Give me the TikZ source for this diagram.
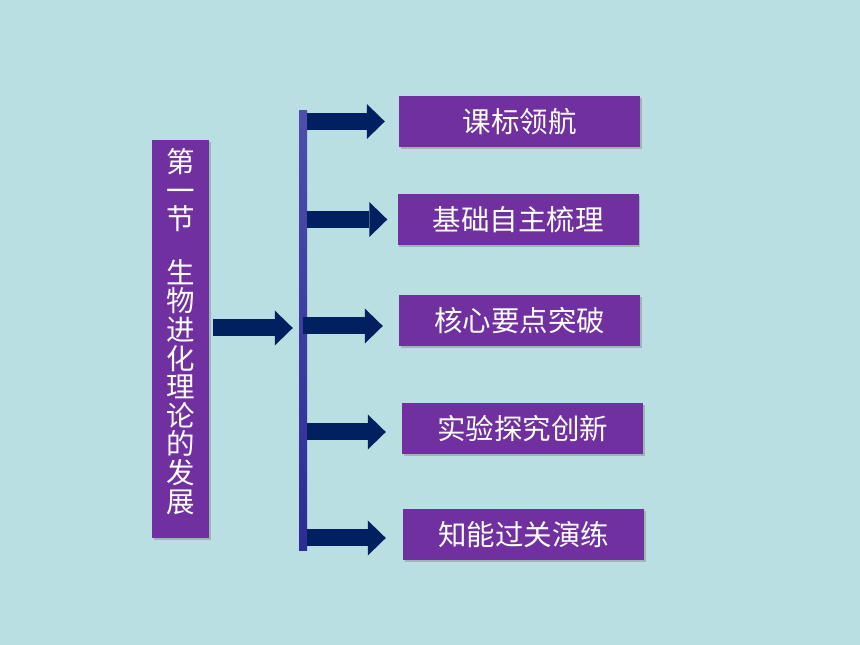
\documentclass[tikz,border=0pt]{standalone}
\usepackage{fontspec}
\newfontfamily\cjk{Noto Sans CJK SC}
\usepackage{tikz}
\usetikzlibrary{arrows.meta,calc,shadows}
\definecolor{slidebg}{RGB}{185,223,226}
\definecolor{boxpurple}{RGB}{112,48,160}
\definecolor{arrownavy}{RGB}{0,32,96}
\definecolor{bartop}{RGB}{78,78,172}
\definecolor{barbottom}{RGB}{44,44,150}

\begin{document}
\begin{tikzpicture}[
		x=1pt,y=1pt,
		font=\cjk\fontsize{28.5pt}{28.6pt}\selectfont,
		topic/.style={fill=boxpurple,text=white,minimum width=241pt,minimum height=51pt,inner sep=0pt,
			drop shadow={shadow xshift=1.5pt,shadow yshift=-2pt,opacity=0.45}},
		bigarrow/.style={arrownavy,line width=17pt,-{Triangle[length=18pt,width=35pt,line width=0pt]},shorten >=14pt}]
		% Background
		\fill[slidebg] (0,0) rectangle (860,645);
		
		% Chapter box on the left
		\node[topic,minimum width=57pt,minimum height=398pt] (chapter) at (180.5,306) {};
		\node[text=white,align=center,inner sep=0pt] (chaptertitle) at (181,313.5)
		{第\\一\\节\\[25pt]生\\物\\进\\化\\理\\论\\的\\发\\展};
		
		% Section boxes
		\node[topic] (goal) at (519.5,523.5) {课标领航};
		\node[topic] (basics) at (518,425.5) {基础自主梳理};
		\node[topic] (keypoints) at (519.5,324) {核心要点突破};
		\node[topic] (experiment) at (522.5,216.5) {实验探究创新};
		\node[topic] (practice) at (523.5,110.5) {知能过关演练};
		
		% Vertical bar
		\node[top color=bartop,bottom color=barbottom,minimum width=8pt,minimum height=440pt,inner sep=0pt] (bar) at (303,314) {};
		
		% Arrows
		\draw[bigarrow,shorten <=4pt,shorten >=6pt] ($(chapter.east)+(0,11)$) -- ($(bar.west |- chapter.east)+(0,11)$);
		\draw[bigarrow] (bar.east |- goal.west) -- (goal.west);
		\draw[bigarrow,shorten >=10pt] (bar.east |- basics.west) -- (basics.west);
		\draw[bigarrow,shorten >=16pt] ($(bar.center |- keypoints.west)+(0,-5)$) -- ($(keypoints.west)+(0,-5)$);
		\draw[bigarrow,shorten >=16pt] ($(bar.east |- experiment.west)+(0,-3.5)$) -- ($(experiment.west)+(0,-3.5)$);
		\draw[bigarrow,shorten >=17pt] ($(bar.east |- practice.west)+(0,-3.5)$) -- ($(practice.west)+(0,-3.5)$);
		
\end{tikzpicture}
\end{document}
